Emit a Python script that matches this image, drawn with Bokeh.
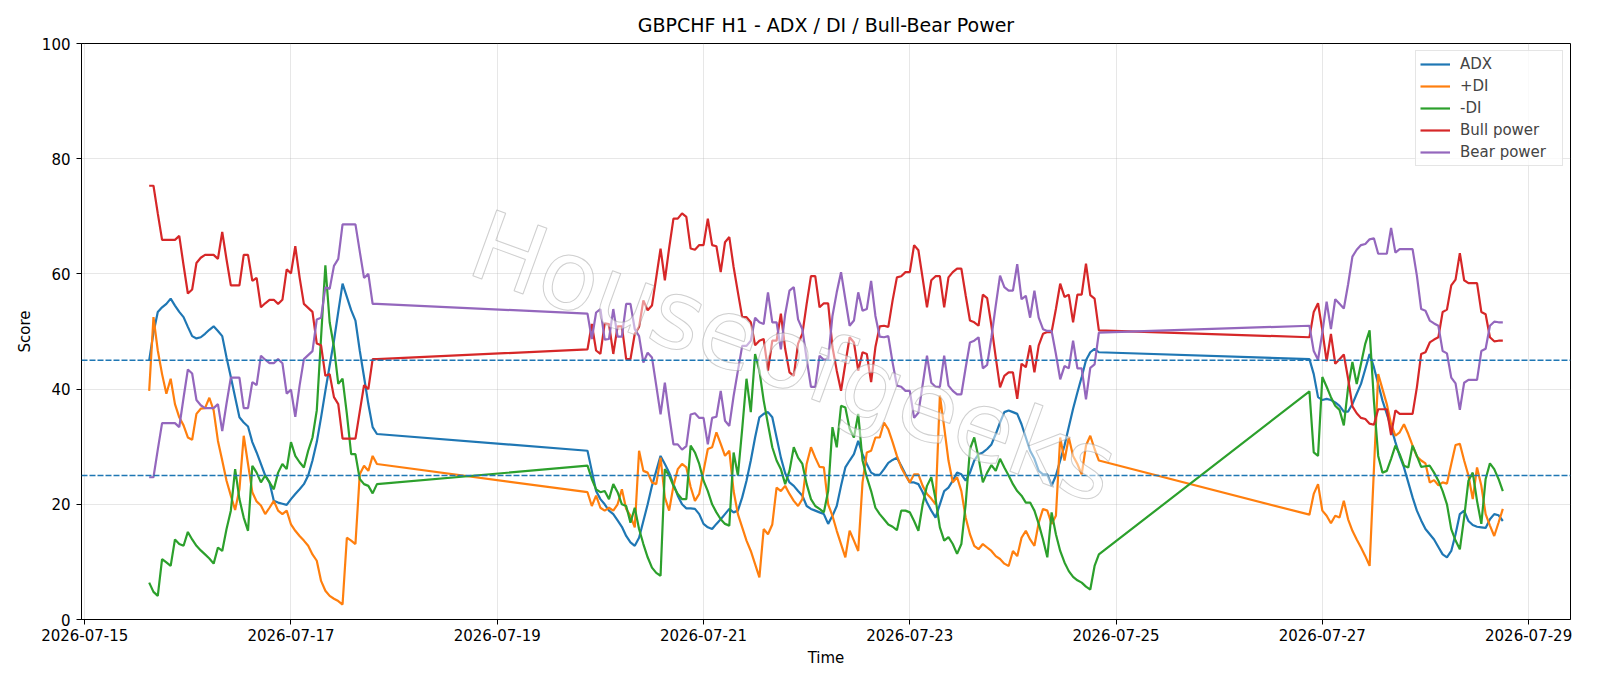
import pandas as pd
from bokeh.plotting import figure
from bokeh.models import Range1d, FixedTicker, DatetimeTickFormatter, Span, Label
from bokeh.embed import file_html
from bokeh.resources import INLINE

# ---- data (hourly H1 bars, three trading blocks) ----
segments = [("2026-07-15 15:00", "2026-07-17 20:00"),
            ("2026-07-19 21:00", "2026-07-24 20:00"),
            ("2026-07-26 21:00", "2026-07-28 18:00")]

adx = [45.0,49.8,53.4,54.2,54.8,55.7,54.5,53.4,52.5,50.8,
       49.2,48.8,49.0,49.6,50.3,50.9,50.1,49.2,45.5,42.1,
       38.6,35.1,34.2,33.5,30.8,29.0,27.0,25.0,23.8,20.6,
       20.3,20.1,19.9,20.9,21.8,22.6,23.5,25.0,27.6,30.8,
       35.1,39.7,44.1,48.4,53.4,58.3,56.0,53.7,51.9,46.7,
       42.1,37.4,33.4,32.2,
       29.3,25.8,22.3,20.9,20.0,18.9,18.3,17.2,16.1,14.5,
       13.4,12.8,14.2,17.1,20.0,23.2,25.8,28.4,27.0,25.5,
       23.5,21.5,20.0,19.3,19.3,19.2,18.3,16.6,16.0,15.7,
       16.6,17.4,18.3,19.2,18.6,18.9,21.2,24.1,27.6,31.6,
       35.1,35.7,36.0,35.1,31.6,28.1,25.4,23.8,23.2,22.3,
       21.5,19.7,19.2,18.9,18.6,18.3,16.6,18.0,19.7,23.2,
       26.4,27.6,28.7,31.0,28.7,27.0,25.5,25.1,25.1,26.1,
       27.2,27.7,28.1,26.7,25.2,23.8,23.8,23.5,22.1,20.3,
       18.9,17.7,20.0,22.3,22.9,24.1,25.5,25.2,24.1,25.5,
       27.6,28.7,29.0,29.6,30.4,32.2,34.2,36.0,36.3,36.0,
       35.7,33.9,31.6,29.3,27.9,25.8,25.2,25.2,23.2,25.0,
       27.6,30.2,33.4,36.6,39.4,42.1,45.0,46.4,47.0,46.4,
       45.2,42.6,38.6,38.1,38.3,38.1,37.7,37.1,36.1,36.1,
       37.4,39.2,40.9,43.5,46.1,43.8,40.9,38.0,35.7,33.4,
       30.8,28.4,26.4,23.8,21.2,18.9,17.2,15.7,14.8,13.9,
       12.6,11.3,10.8,11.9,14.8,18.3,18.9,17.1,16.4,16.1,
       16.0,15.9,17.4,18.3,18.1,17.1]

plus_di = [39.7,52.5,46.7,42.6,39.2,41.8,37.4,35.1,33.7,31.6,
           31.2,35.7,36.6,36.7,38.5,36.3,31.0,27.6,24.1,21.5,
           19.0,22.6,31.9,27.0,22.1,20.5,19.8,18.3,19.4,20.6,
           18.9,18.3,18.9,16.5,15.4,14.5,13.7,12.8,11.3,10.2,
           6.7,5.0,4.1,3.6,3.2,2.6,14.2,13.7,13.1,25.2,
           26.7,25.8,28.4,27.0,
           22.1,19.7,21.5,19.4,18.9,19.4,18.9,20.0,22.6,19.2,
           18.0,16.0,29.3,25.8,25.5,23.8,23.5,28.1,21.2,18.9,
           23.2,26.1,27.0,26.4,23.0,20.6,21.8,25.8,29.6,29.9,
           32.5,30.5,28.4,29.3,22.3,18.3,16.0,13.7,11.9,9.6,
           7.3,15.7,14.8,16.5,22.9,22.3,23.2,21.8,20.6,19.7,
           20.9,27.0,29.9,28.1,26.5,26.4,20.0,18.0,15.4,13.1,
           10.8,15.4,13.7,11.9,23.8,29.0,29.3,31.6,31.6,34.2,
           33.0,30.8,28.4,26.4,25.0,23.8,25.2,25.2,23.2,21.8,
           21.0,20.0,38.9,33.4,27.6,23.8,24.7,22.3,17.7,14.8,
           12.8,12.2,13.1,12.5,11.9,11.0,10.5,9.7,9.3,11.9,
           11.0,14.2,15.4,13.9,12.8,16.8,19.2,18.9,16.6,18.0,
           31.6,27.6,31.6,28.4,27.0,25.2,30.2,31.9,29.6,27.6,
           18.2,21.8,23.5,18.9,18.0,16.7,18.0,17.7,20.6,17.4,
           15.4,13.9,12.5,11.0,9.3,26.0,42.6,40.0,37.4,33.9,
           31.9,32.5,33.9,32.2,30.2,28.3,27.6,27.1,23.8,24.2,
           23.3,23.8,23.6,27.0,30.3,30.5,27.6,25.0,20.9,26.4,
           23.2,18.3,16.3,14.5,16.8,19.2]

minus_di = [6.4,4.8,4.1,10.5,9.9,9.3,13.9,13.1,12.8,15.2,
            13.9,12.8,12.0,11.3,10.6,9.7,12.5,11.9,15.7,18.9,
            26.1,20.9,17.7,15.4,26.7,25.5,23.8,25.0,23.8,22.6,
            25.5,27.0,26.1,30.8,28.4,27.3,26.4,29.3,31.6,36.3,
            49.0,61.5,51.6,47.3,40.9,41.8,35.7,28.7,28.7,24.4,
            23.5,23.2,21.9,23.5,
            26.7,24.4,22.6,22.1,22.3,20.9,23.5,22.1,20.0,19.7,
            16.8,19.4,15.7,13.1,10.8,9.0,8.1,7.6,26.1,25.0,
            23.2,21.8,20.9,20.9,30.2,29.0,27.0,24.1,22.3,20.0,
            18.6,17.4,16.6,16.3,29.0,25.0,33.1,41.8,36.0,46.1,
            43.2,38.0,33.9,29.9,27.6,26.1,23.5,25.8,29.9,28.1,
            27.0,23.5,20.9,19.7,19.2,18.6,22.3,33.4,29.9,37.1,
            36.8,33.1,31.6,35.7,27.6,24.7,22.3,19.4,18.3,17.4,
            16.5,16.1,15.5,18.9,18.9,18.6,17.1,15.4,20.0,23.2,
            24.7,20.9,16.0,13.7,14.3,13.1,11.4,13.1,20.0,29.6,
            31.6,28.1,23.8,25.5,26.8,25.8,27.9,26.4,25.0,23.5,
            22.3,21.5,20.3,20.3,18.9,16.6,13.9,10.8,18.6,14.8,
            11.9,9.9,8.4,7.4,6.8,6.4,5.7,5.2,9.3,11.3,
            39.6,29.0,28.4,42.1,40.4,38.6,37.1,36.4,33.7,40.3,
            44.7,40.9,44.4,47.9,50.2,38.0,28.4,25.5,25.8,27.9,
            30.2,28.7,26.7,26.4,30.2,28.4,26.5,26.6,26.7,25.5,
            24.1,22.3,20.0,15.7,13.7,12.2,17.7,24.1,25.5,20.6,
            16.6,24.4,27.1,26.1,24.4,22.3]

bull_power = [75.3,75.3,70.5,65.9,65.9,65.9,65.9,66.6,61.5,56.6,
              57.3,61.9,62.8,63.3,63.3,63.3,62.6,67.3,62.5,58.0,
              58.0,58.0,63.3,63.3,58.8,59.3,54.2,54.9,55.5,55.5,
              54.8,55.5,60.8,60.1,64.8,59.4,54.8,54.1,53.4,47.9,
              47.6,42.3,42.6,38.6,37.4,31.4,31.4,31.4,31.4,36.1,
              40.7,40.0,45.2,45.2,
              46.9,51.3,46.7,46.1,51.4,51.3,46.1,50.9,50.9,45.2,
              45.2,49.6,50.8,55.4,53.7,54.5,59.4,64.4,58.9,64.5,
              69.6,69.6,70.5,69.9,64.4,64.2,65.0,65.0,69.6,65.0,
              64.8,60.3,65.5,66.4,61.2,56.8,52.5,52.5,51.6,47.6,
              48.4,48.7,43.2,48.4,48.4,53.1,47.0,42.9,42.3,47.9,
              49.6,54.8,59.6,59.6,54.2,54.9,54.9,47.3,43.2,39.7,
              44.4,49.0,48.1,43.2,46.4,46.1,41.2,47.3,50.9,51.0,
              50.8,55.4,59.4,59.6,60.3,60.3,65.0,64.1,59.2,54.2,
              58.9,59.6,59.6,54.2,59.4,60.3,60.9,60.9,56.3,51.9,
              51.6,51.0,56.4,55.8,51.0,45.5,40.3,42.3,42.9,42.9,
              38.3,44.4,43.8,47.6,42.9,47.6,49.6,49.9,49.9,53.9,
              58.3,56.0,56.4,51.6,56.4,56.4,61.8,56.3,55.7,50.2,
              49.0,53.4,54.9,50.2,44.8,49.6,44.4,45.2,46.0,41.8,
              37.0,35.8,35.0,34.8,34.0,33.8,36.5,36.5,36.5,32.0,
              36.3,35.7,35.7,35.7,35.7,40.3,46.1,46.4,48.1,48.6,
              49.0,53.4,53.8,58.0,59.0,63.6,58.9,58.4,58.4,58.4,
              53.4,53.0,49.0,48.3,48.4,48.4]

bear_power = [24.7,24.7,29.5,34.1,34.1,34.1,34.1,33.4,38.5,43.4,
              42.7,38.1,37.2,36.7,36.7,36.7,37.4,32.7,37.5,42.0,
              42.0,42.0,36.7,36.7,41.2,40.7,45.8,45.1,44.5,44.5,
              45.2,44.5,39.2,39.9,35.2,40.6,45.2,45.9,46.6,52.1,
              52.4,57.7,57.4,61.4,62.6,68.6,68.6,68.6,68.6,63.9,
              59.3,60.0,54.8,54.8,
              53.1,48.7,53.3,53.9,48.6,48.7,53.9,49.1,49.1,54.8,
              54.8,50.4,49.2,44.6,46.3,45.5,40.6,35.6,41.1,35.5,
              30.4,30.4,29.5,30.1,35.6,35.8,35.0,35.0,30.4,35.0,
              35.2,39.7,34.5,33.6,38.8,43.2,47.5,47.5,48.4,52.4,
              51.6,51.3,56.8,51.6,51.6,46.9,53.0,57.1,57.7,52.1,
              50.4,45.2,40.4,40.4,45.8,45.1,45.1,52.7,56.8,60.3,
              55.6,51.0,51.9,56.8,53.6,53.9,58.8,52.7,49.1,49.0,
              49.2,44.6,40.6,40.4,39.7,39.7,35.0,35.9,40.8,45.8,
              41.1,40.4,40.4,45.8,40.6,39.7,39.1,39.1,43.7,48.1,
              48.4,49.0,43.6,44.2,49.0,54.5,59.7,57.7,57.1,57.1,
              61.7,55.6,56.2,52.4,57.1,52.4,50.4,50.1,50.1,46.1,
              41.7,44.0,43.6,48.4,43.6,43.6,38.2,43.7,44.3,49.8,
              51.0,46.6,45.1,49.8,55.2,50.4,55.6,54.8,54.0,58.2,
              63.0,64.2,65.0,65.2,66.0,66.2,63.5,63.5,63.5,68.0,
              63.7,64.3,64.3,64.3,64.3,59.7,53.9,53.6,51.9,51.4,
              51.0,46.6,46.2,42.0,41.0,36.4,41.1,41.6,41.6,41.6,
              46.6,47.0,51.0,51.7,51.6,51.6]

threshold_levels = [45, 25]
y_ticks = [0, 20, 40, 60, 80, 100]
x_tick_dates = ["2026-07-15", "2026-07-17", "2026-07-19", "2026-07-21",
                "2026-07-23", "2026-07-25", "2026-07-27", "2026-07-29"]

times = []
for a, b in segments:
    times.extend(list(pd.date_range(a, b, freq="h").to_pydatetime()))

series = [("ADX", adx, "#1f77b4"),
          ("+DI", plus_di, "#ff7f0e"),
          ("-DI", minus_di, "#2ca02c"),
          ("Bull power", bull_power, "#d62728"),
          ("Bear power", bear_power, "#9467bd")]

# x range with 5% padding like matplotlib
t0, t1 = times[0], times[-1]
pad = (t1 - t0) * 0.05
FONT = "DejaVu Sans"

p = figure(width=1600, height=686, x_axis_type="datetime",
           output_backend="svg", toolbar_location=None,
           x_range=Range1d(t0 - pad, t1 + pad), y_range=Range1d(0, 100),
           min_border_left=81, min_border_right=30,
           min_border_top=43, min_border_bottom=67)

p.title.text = "GBPCHF H1 - ADX / DI / Bull-Bear Power"
p.title.align = "center"
p.title.text_font = FONT
p.title.text_font_size = "19px"
p.title.text_font_style = "normal"
p.title.text_color = "black"
p.title.standoff = 16

for lvl in threshold_levels:
    p.add_layout(Span(location=lvl, dimension="width", line_color="#1f77b4",
                      line_dash="6 2", line_width=1.5))

for name, vals, col in series:
    n = min(len(vals), len(times))
    p.line(times[:n], vals[:n], line_color=col, line_width=2.2, legend_label=name)

ms_ticks = [pd.Timestamp(d).value // 10**6 for d in x_tick_dates]
p.xaxis.ticker = FixedTicker(ticks=ms_ticks)
fmt = "%Y-%m-%d"
p.xaxis.formatter = DatetimeTickFormatter(days=fmt, months=fmt, years=fmt, hours=fmt,
                                          minutes=fmt, seconds=fmt, milliseconds=fmt,
                                          minsec=fmt, hourmin=fmt)
p.yaxis.ticker = FixedTicker(ticks=y_ticks)
p.xgrid.ticker = FixedTicker(ticks=ms_ticks)
p.ygrid.ticker = FixedTicker(ticks=y_ticks)

p.xaxis.axis_label = "Time"
p.yaxis.axis_label = "Score"
for ax in (p.xaxis, p.yaxis):
    ax.axis_label_text_font = FONT
    ax.axis_label_text_font_size = "15px"
    ax.axis_label_text_font_style = "normal"
    ax.axis_label_text_color = "black"
    ax.major_label_text_font = FONT
    ax.major_label_text_font_size = "15px"
    ax.major_label_text_color = "black"
    ax.axis_line_color = "black"
    ax.major_tick_line_color = "black"
    ax.major_tick_out = 5
    ax.major_tick_in = 0
    ax.minor_tick_line_color = None
p.xaxis.major_label_standoff = 4
p.yaxis.major_label_standoff = 6
p.xaxis.axis_label_standoff = 5
p.yaxis.axis_label_standoff = 5

for g in (p.xgrid, p.ygrid):
    g.grid_line_color = "#b0b0b0"
    g.grid_line_alpha = 0.3
    g.grid_line_width = 1

p.outline_line_color = "black"
p.outline_line_width = 1
p.outline_line_alpha = 1
p.background_fill_color = "white"
p.border_fill_color = "white"

lg = p.legend[0]
lg.location = "top_right"
lg.margin = 7
lg.padding = 4
lg.spacing = 4
lg.label_text_font = FONT
lg.label_text_font_size = "15px"
lg.glyph_width = 30
lg.glyph_height = 16
lg.label_height = 16
lg.label_width = 98
lg.label_standoff = 10
lg.border_line_color = "#cccccc"
lg.border_line_width = 1
lg.background_fill_alpha = 0.8

# watermark (hollow grey letters over the lines)
wm_text = "Houseofgeeks"
wm_x = pd.Timestamp("2026-07-21 21:00").value // 10**6
wm_y = 45.5
wm_style = dict(text=wm_text, angle=-20, angle_units="deg", text_font=FONT,
                text_font_size="96px", text_align="center", text_baseline="middle")
for dx, dy in [(-0.8, 0), (0.8, 0), (0, -0.8), (0, 0.8)]:
    p.add_layout(Label(x=wm_x, y=wm_y, x_offset=dx, y_offset=dy, text_color="white",
                       text_alpha=0.0, text_outline_color="#b4b4b4", **wm_style))
p.add_layout(Label(x=wm_x, y=wm_y, text_color="white", text_alpha=0.5,
                   text_outline_color="#a0a0a0", **wm_style))

open("out.html", "w").write(file_html(p, INLINE))
